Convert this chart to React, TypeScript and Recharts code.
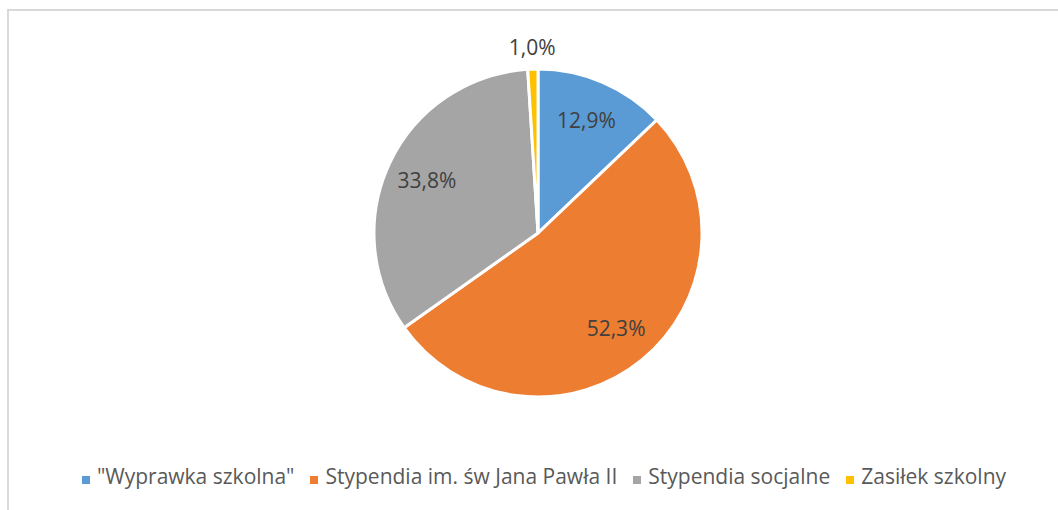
import { Cell, Legend, Pie, PieChart } from "recharts";

const categories = [
  '"Wyprawka szkolna"',
  "Stypendia im. św Jana Pawła II",
  "Stypendia socjalne",
  "Zasiłek szkolny",
];
const shares = [12.9, 52.3, 33.8, 1.0];
const colors = ["#5b9bd5", "#ed7d31", "#a5a5a5", "#ffc000"];

const data = categories.map((name, i) => ({ name, value: shares[i] }));

const RAD = Math.PI / 180;

function renderLabel(props: any) {
  const { cx, cy, midAngle, outerRadius, value } = props;
  const r = value < 5 ? outerRadius + 22 : outerRadius * 0.75;
  const x = cx + r * Math.cos(-midAngle * RAD);
  const y = cy + r * Math.sin(-midAngle * RAD);
  return (
    <text
      x={x}
      y={y}
      fill="#404040"
      fontSize={21}
      textAnchor="middle"
      dominantBaseline="central"
    >
      {value.toFixed(1).replace(".", ",")}%
    </text>
  );
}

export default function App() {
  return (
    <div
      style={{
        position: "relative",
        width: 1058,
        height: 510,
        background: "#fff",
        fontFamily: "'Open Sans', sans-serif",
      }}
    >
      <style>{`body{margin:0}`}</style>
      <div
        style={{
          position: "absolute",
          left: 7,
          top: 9,
          right: 0,
          bottom: 0,
          borderTop: "2px solid #d9d9d9",
          borderLeft: "2px solid #d9d9d9",
        }}
      />
      <PieChart
        width={1058}
        height={510}
        margin={{ top: 0, right: 0, bottom: 0, left: 0 }}
        style={{ position: "absolute", left: 0, top: 0 }}
      >
        <Pie
          data={data}
          dataKey="value"
          nameKey="name"
          cx={538}
          cy={233}
          outerRadius={164}
          startAngle={90}
          endAngle={-270}
          stroke="#fff"
          strokeWidth={3}
          label={renderLabel}
          labelLine={false}
          isAnimationActive={false}
        >
          {data.map((d, i) => (
            <Cell key={d.name} fill={colors[i]} />
          ))}
        </Pie>
        <Legend
          verticalAlign="bottom"
          iconType="square"
          iconSize={8}
          wrapperStyle={{ top: 462, bottom: "auto", left: 9, width: 1086 }}
          formatter={(v: string) => (
            <span style={{ color: "#595959", fontSize: 21, marginLeft: 3, marginRight: 6 }}>
              {v}
            </span>
          )}
        />
      </PieChart>
    </div>
  );
}
